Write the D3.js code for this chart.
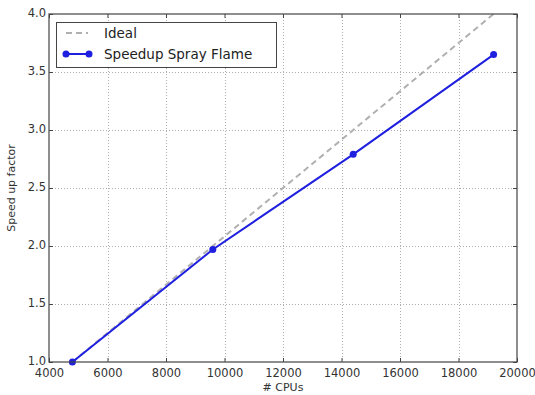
<!DOCTYPE html>
<html>
<head>
<meta charset="utf-8">
<script src="https://cdn.jsdelivr.net/npm/d3@7"></script>
<style>
  body { margin: 0; background: #fff; }
  svg { font-family: "DejaVu Sans", sans-serif; }
</style>
</head>
<body>
<svg width="535" height="395"></svg>
<script>
const width = 535, height = 395;
const margin = {left: 49, top: 14, right: 18, bottom: 33};

// data
const cpus = [4800, 9600, 14400, 19200];
const speedup = [1.0, 1.97, 2.79, 3.65];
const ideal = [1.0, 2.0, 3.0, 4.0];
const xTicks = [4000, 6000, 8000, 10000, 12000, 14000, 16000, 18000, 20000];
const yTicks = [1.0, 1.5, 2.0, 2.5, 3.0, 3.5, 4.0];
const seriesNames = ["Ideal", "Speedup Spray Flame"];

const svg = d3.select("svg");

const x = d3.scaleLinear()
    .domain([4000, 20000])
    .range([margin.left, width - margin.right]);
const y = d3.scaleLinear()
    .domain([1.0, 4.0])
    .range([height - margin.bottom, margin.top]);

const x0 = margin.left, x1 = width - margin.right;
const y0 = height - margin.bottom, y1 = margin.top;

// grid
svg.append("g")
    .selectAll("line")
    .data(xTicks.slice(1, -1))
    .join("line")
        .attr("x1", d => Math.round(x(d)) + 0.5)
        .attr("x2", d => Math.round(x(d)) + 0.5)
        .attr("y1", y1)
        .attr("y2", y0)
        .attr("stroke", "#999")
        .attr("stroke-width", 0.8)
        .attr("stroke-dasharray", "1,2");
svg.append("g")
    .selectAll("line")
    .data(yTicks.slice(1, -1))
    .join("line")
        .attr("x1", x0)
        .attr("x2", x1)
        .attr("y1", d => Math.round(y(d)) + 0.5)
        .attr("y2", d => Math.round(y(d)) + 0.5)
        .attr("stroke", "#999")
        .attr("stroke-width", 0.8)
        .attr("stroke-dasharray", "1,2");

// ideal dashed line
const line = d3.line().x(d => x(d[0])).y(d => y(d[1]));
svg.append("path")
    .datum(cpus.map((c, i) => [c, ideal[i]]))
    .attr("d", line)
    .attr("fill", "none")
    .attr("stroke", "#b0b0b0")
    .attr("stroke-width", 2)
    .attr("stroke-dasharray", "6,4");

// speedup line
const sdata = cpus.map((c, i) => [c, speedup[i]]);
svg.append("path")
    .datum(sdata)
    .attr("d", line)
    .attr("fill", "none")
    .attr("stroke", "#1f1fe0")
    .attr("stroke-width", 2);
svg.append("g")
    .selectAll("circle")
    .data(sdata)
    .join("circle")
        .attr("cx", d => x(d[0]))
        .attr("cy", d => y(d[1]))
        .attr("r", 3.5)
        .attr("fill", "#1f1fe0");

// frame
svg.append("rect")
    .attr("x", x0).attr("y", y1)
    .attr("width", x1 - x0).attr("height", y0 - y1)
    .attr("fill", "none")
    .attr("stroke", "#444")
    .attr("stroke-width", 1.2);

// axes with inward ticks
const xAxis = svg.append("g")
    .attr("transform", `translate(0,${y0})`)
    .call(d3.axisBottom(x).tickValues(xTicks).tickSizeInner(-4).tickSizeOuter(0).tickPadding(7).tickFormat(d3.format("d")));
const xAxisTop = svg.append("g")
    .attr("transform", `translate(0,${y1})`)
    .call(d3.axisTop(x).tickValues(xTicks).tickSizeInner(-4).tickSizeOuter(0).tickFormat(""));
const yAxis = svg.append("g")
    .attr("transform", `translate(${x0},-1.5)`)
    .call(d3.axisLeft(y).tickValues(yTicks).tickSizeInner(0).tickSizeOuter(0).tickPadding(3).tickFormat(d3.format(".1f")));
const yTickMarks = svg.append("g")
    .attr("transform", `translate(${x0},0)`)
    .call(d3.axisLeft(y).tickValues(yTicks).tickSizeInner(-4).tickSizeOuter(0).tickFormat(""));
const yAxisRight = svg.append("g")
    .attr("transform", `translate(${x1},0)`)
    .call(d3.axisRight(y).tickValues(yTicks).tickSizeInner(-4).tickSizeOuter(0).tickFormat(""));

[xAxis, xAxisTop, yAxis, yTickMarks, yAxisRight].forEach(g => {
    g.select(".domain").remove();
    g.selectAll("line").attr("stroke", "#444");
    g.selectAll("text")
        .attr("fill", "#333")
        .style("font-family", "DejaVu Sans")
        .style("font-size", "11.5px");
});

// axis labels
svg.append("text")
    .attr("x", (x0 + x1) / 2)
    .attr("y", height - 4)
    .attr("text-anchor", "middle")
    .attr("fill", "#333")
    .style("font-size", "11px")
    .text("# CPUs");
svg.append("text")
    .attr("transform", `translate(15,${(y0 + y1) / 2}) rotate(-90)`)
    .attr("text-anchor", "middle")
    .attr("fill", "#333")
    .style("font-size", "11px")
    .text("Speed up factor");

// legend
const lg = svg.append("g");
lg.append("rect")
    .attr("x", 56.5).attr("y", 22.5)
    .attr("width", 220).attr("height", 45)
    .attr("fill", "#fff")
    .attr("stroke", "#444")
    .attr("stroke-width", 1);
lg.append("line")
    .attr("x1", 66).attr("x2", 88)
    .attr("y1", 33).attr("y2", 33)
    .attr("stroke", "#b0b0b0").attr("stroke-width", 2)
    .attr("stroke-dasharray", "6,4");
lg.append("line")
    .attr("x1", 66).attr("x2", 89)
    .attr("y1", 54).attr("y2", 54)
    .attr("stroke", "#1f1fe0").attr("stroke-width", 2);
lg.selectAll("circle.lg")
    .data([66, 89])
    .join("circle")
        .attr("cx", d => d).attr("cy", 54).attr("r", 3.5)
        .attr("fill", "#1f1fe0");
lg.selectAll("text")
    .data(seriesNames)
    .join("text")
        .attr("x", 104)
        .attr("y", (d, i) => 33 + i * 21)
        .attr("dy", "0.35em")
        .attr("fill", "#222")
        .style("font-size", "13.5px")
        .text(d => d);
</script>
</body>
</html>
